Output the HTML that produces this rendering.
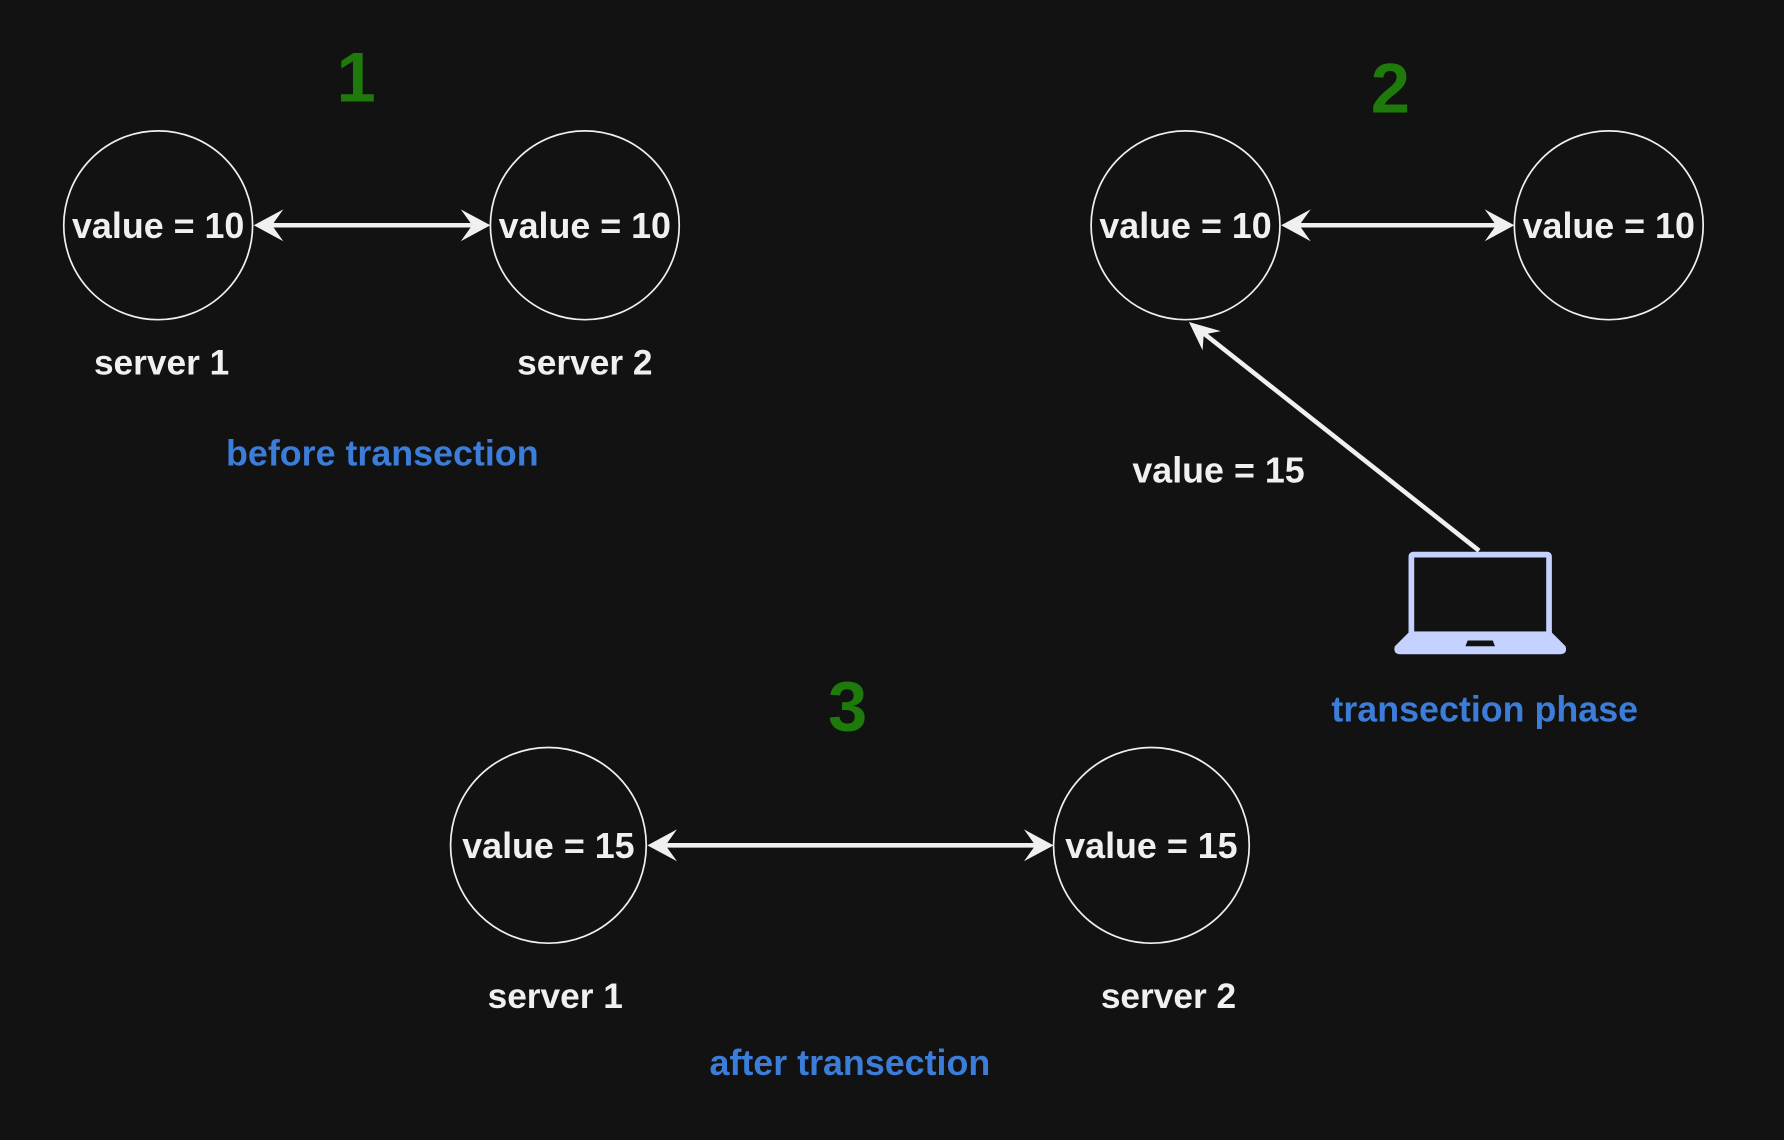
<!DOCTYPE html>
<html><head><meta charset="utf-8"><style>
html,body{margin:0;padding:0;background:#121212;}
svg{display:block;}
text{font-family:"Liberation Sans",Arial,sans-serif;font-weight:bold;}
</style></head><body>
<svg width="1784" height="1140" viewBox="0 0 1568 1002" xmlns="http://www.w3.org/2000/svg">
<rect width="1568" height="1002" fill="#121212"/>
<g fill="none" stroke="#f0f0f0" stroke-width="1.5">
<circle cx="139" cy="198" r="83"/>
<circle cx="514" cy="198" r="83"/>
<circle cx="1042" cy="198" r="83"/>
<circle cx="1414" cy="198" r="83"/>
<circle cx="482" cy="743" r="86"/>
<circle cx="1012" cy="743" r="86"/>
</g>
<g stroke="#f0f0f0" stroke-width="4">
<line x1="235" y1="198" x2="420" y2="198"/>
<line x1="1138" y1="198" x2="1320" y2="198"/>
<line x1="581" y1="743" x2="915" y2="743"/>
<line x1="1300" y1="484" x2="1058" y2="293"/>
</g>
<g fill="#f0f0f0">
<polygon points="223,198 249,184 239,198 249,212"/>
<polygon points="431,198 405,184 415,198 405,212"/>
<polygon points="1126,198 1152,184 1142,198 1152,212"/>
<polygon points="1331,198 1305,184 1315,198 1305,212"/>
<polygon points="569,743 595,729 585,743 595,757"/>
<polygon points="926,743 900,729 910,743 900,757"/>
<polygon points="1045,283 1073,291 1058,294 1057,308"/>
</g>
<g fill="#f0f0f0" font-size="31.5" text-anchor="middle">
<text x="139" y="209">value = 10</text>
<text x="514" y="209">value = 10</text>
<text x="1042" y="209">value = 10</text>
<text x="1414" y="209">value = 10</text>
<text x="482" y="754">value = 15</text>
<text x="1012" y="754">value = 15</text>
<text x="1071" y="424">value = 15</text>
</g>
<g fill="#f0f0f0" font-size="31" text-anchor="middle">
<text x="142" y="329">server 1</text>
<text x="514" y="329">server 2</text>
<text x="488" y="886">server 1</text>
<text x="1027" y="886">server 2</text>
</g>
<g fill="#3b7dd8" font-size="31.5" text-anchor="middle">
<text x="336" y="409">before transection</text>
<text x="1305" y="634">transection phase</text>
<text x="747" y="945">after transection</text>
</g>
<g fill="#1f7a0c" font-size="62" text-anchor="middle">
<text x="313" y="89">1</text>
<text x="1222" y="99">2</text>
<text x="745" y="642">3</text>
</g>
<g>
<rect x="1238" y="485" width="126" height="75" rx="4" fill="#c5d2ff"/>
<rect x="1243" y="490" width="116" height="65" fill="#121212"/>
<path d="M1238,556 L1364,556 L1376,568 Q1378,575 1371,575 L1231,575 Q1224,575 1226,568 Z" fill="#c5d2ff"/>
<polygon points="1290,563 1312,563 1314,568 1288,568" fill="#121212"/>
</g>
</svg>
</body></html>
